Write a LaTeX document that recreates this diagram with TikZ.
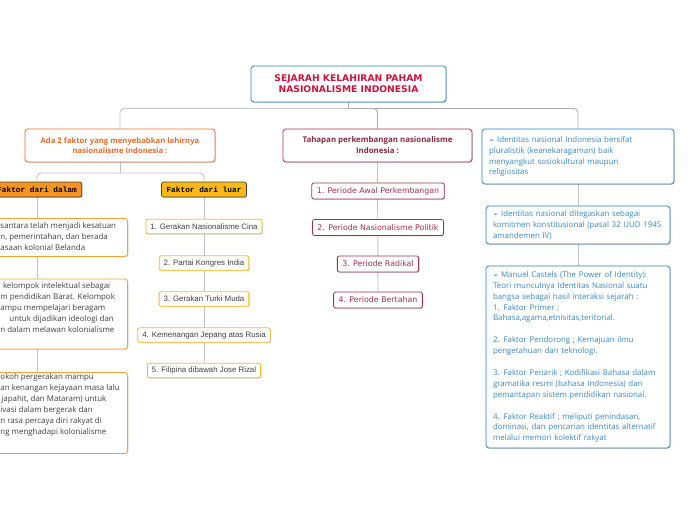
\documentclass[tikz,border=0pt]{standalone}
\usepackage{fontspec}
\setmainfont{Open Sans}
\newfontfamily\dvs{DejaVu Sans}
\newfontfamily\lmono{Liberation Mono}
\newfontfamily\lsans{Liberation Sans}
\newcommand\arrsym{{\dvs\fontsize{6.5}{10.9}\selectfont ➢}}
\usetikzlibrary{backgrounds,shadows,calc}
\definecolor{titleblue}{HTML}{2A80C0}
\definecolor{titlered}{HTML}{C8143C}
\definecolor{brorange}{HTML}{EE6A2C}
\definecolor{boxorange}{HTML}{F6A03A}
\definecolor{dalamfill}{HTML}{F7941D}
\definecolor{luarfill}{HTML}{FDB913}
\definecolor{luarborder}{HTML}{FDB913}
\definecolor{midred}{HTML}{A3324A}
\definecolor{midtext}{HTML}{8C2A41}
\definecolor{rblue}{HTML}{2D7EC2}
\definecolor{rtext}{HTML}{3A88C8}
\definecolor{conn}{HTML}{C4C4C4}
\definecolor{conndark}{HTML}{AEAEAE}
\definecolor{darktext}{HTML}{404040}
\begin{document}
\begin{tikzpicture}[x=1pt,y=-1pt,
  shd/.style={drop shadow={shadow xshift=0.8pt,shadow yshift=-0.8pt,opacity=0.18,fill=black}},
  boxbase/.style={draw,fill=white,rounded corners=3pt,inner sep=0pt,line width=0.8pt,shd},
  titlebox/.style={boxbase,draw=titleblue,text=titlered,align=center,
     font=\dvs\bfseries\fontsize{9.2}{11}\selectfont},
  lbranch/.style={boxbase,draw=brorange,text=brorange,align=center,
     font=\bfseries\fontsize{7.7}{10.5}\selectfont},
  mbranch/.style={boxbase,draw=midred,text=midtext,align=center,
     font=\bfseries\fontsize{7.9}{11}\selectfont},
  rbox/.style={boxbase,draw=rblue,text=rtext,align=left,inner xsep=7pt,
     font=\fontsize{7.9}{10.9}\selectfont},
  period/.style={boxbase,rounded corners=2pt,draw=midred,text=midred,inner xsep=5pt,
     minimum height=16pt,font=\dvs\fontsize{7.85}{9}\selectfont},
  faktor/.style={boxbase,rounded corners=2pt,draw=black!75,line width=0.7pt,inner xsep=5pt,
     minimum height=15pt,font=\lmono\bfseries\fontsize{7.8}{9}\selectfont},
  luaritem/.style={boxbase,rounded corners=2pt,draw=luarborder,text=darktext,inner xsep=4.5pt,
     minimum height=14.5pt,font=\lsans\fontsize{7.85}{9}\selectfont},
  dalambox/.style={boxbase,draw=boxorange,anchor=north east},
  dalamtext/.style={inner sep=0pt,align=left,text=darktext,anchor=north west,
     font=\fontsize{7.9}{11}\selectfont},
  link/.style={draw=conn,line width=0.9pt},
  linkdark/.style={draw=conndark,line width=0.9pt}
]
\useasboundingbox (0,0) rectangle (697,520);
\clip (0,0) rectangle (697,520);

% title
\node[titlebox,minimum width=195pt,minimum height=36pt] (title) at (348.5,84)
  {SEJARAH KELAHIRAN PAHAM\\NASIONALISME INDONESIA};

% branches
\node[lbranch,minimum width=190pt,minimum height=33pt] (lb) at (120,145.5)
  {Ada 2 faktor yang menyebabkan lahirnya\\nasionalisme Indonesia :};
\node[mbranch,minimum width=189pt,minimum height=33pt] (mb) at (377.5,145.5)
  {Tahapan perkembangan nasionalisme\\Indonesia :};
\node[rbox,minimum width=192pt,minimum height=55pt,text width=178pt] (r1) at (578,156.5)
  {\arrsym{} Identitas nasional Indonesia bersifat\\pluralistik (keanekaragaman) baik\\menyangkut sosiokultural maupun\\religiositas};
\node[rbox,minimum width=184pt,minimum height=38pt,text width=170pt] (r2) at (578,225)
  {\arrsym{} Identitas nasional ditegaskan sebagai\\komitmen konstitusional (pasal 32 UUD 1945\\amandemen IV)};
\node[rbox,minimum width=184pt,minimum height=182pt,text width=170pt] (r3) at (578,357)
  {\arrsym{} Manuel Castels (The Power of Identity):\\
   Teori munculnya Identitas Nasional suatu\\
   bangsa sebagai hasil interaksi sejarah :\\
   1. Faktor Primer ;\\
   Bahasa,agama,etnisitas,teritorial.\\[10.9pt]
   2. Faktor Pendorong ; Kemajuan ilmu\\
   pengetahuan dan teknologi.\\[10.9pt]
   3. Faktor Penarik ; Kodifikasi Bahasa dalam\\
   gramatika resmi (bahasa Indonesia) dan\\
   pemantapan sistem pendidikan nasional.\\[10.9pt]
   4. Faktor Reaktif ; meliputi penindasan,\\
   dominasi, dan pencarian identitas alternatif\\
   melalui memori kolektif rakyat};

% periods
\node[period] (p1) at (378,191) {1. Periode Awal Perkembangan};
\node[period] (p2) at (378,227.5) {2. Periode Nasionalisme Politik};
\node[period] (p3) at (378,264) {3. Periode Radikal};
\node[period] (p4) at (378,300) {4. Periode Bertahan};

% faktor boxes
\node[faktor,fill=dalamfill] (dalam) at (37,189.5) {Faktor dari dalam};
\node[faktor,fill=luarfill] (luar) at (204,189.5) {Faktor dari luar};

% luar items
\node[luaritem] (l1) at (204,226.5) {1. Gerakan Nasionalisme Cina};
\node[luaritem] (l2) at (204,263) {2. Partai Kongres India};
\node[luaritem] (l3) at (204,299) {3. Gerakan Turki Muda};
\node[luaritem] (l4) at (204,335) {4. Kemenangan Jepang atas Rusia};
\node[luaritem] (l5) at (204,370.5) {5. Filipina dibawah Jose Rizal};

% dalam items (cut by the left edge)
\node[dalambox,minimum width=160pt,minimum height=38pt] (d1) at (128,218) {};
\node[dalamtext] (d1t) at (0.3,222.5)
  {santara telah menjadi kesatuan\\n, pemerintahan, dan berada\\asaan kolonial Belanda};
\node[dalambox,minimum width=160pt,minimum height=70pt] (d2) at (128,278.5) {};
\node[dalamtext] (d2t) at (0.3,282.5)
  {\hspace*{2.5pt}kelompok intelektual sebagai\\m pendidikan Barat. Kelompok\\ampu mempelajari beragam\\\hspace*{9pt}untuk dijadikan ideologi dan\\n dalam melawan kolonialisme};
\node[dalambox,minimum width=160pt,minimum height=81pt] (d3) at (128,372) {};
\node[dalamtext] (d3t) at (0.3,373.5)
  {okoh pergerakan mampu\\an kenangan kejayaan masa lalu\\\hspace*{1pt}japahit, dan Mataram) untuk\\ivasi dalam bergerak dan\\n rasa percaya diri rakyat di\\ng menghadapi kolonialisme};

% connectors
\coordinate (hub) at (348.5,108.5);
\coordinate (hubl) at (120,173);
\begin{scope}[on background layer]
  \draw[linkdark] (title.south) -- (hub);
  \draw[link,rounded corners=4pt] (hub) -| (lb.north);
  \draw[linkdark,rounded corners=4pt] (hub) -| (mb.north);
  \draw[linkdark,rounded corners=4pt] (hub) -| (r1.north);
  \draw[link] (lb.south) -- (hubl);
  \draw[link,rounded corners=4pt] (hubl) -| (dalam.north);
  \draw[link,rounded corners=4pt] (hubl) -| (luar.north);
  \draw[link] (dalam.south) -- (d3.north -| dalam.south);
  \draw[link] (luar.south) -- (l5.north);
  \draw[link] (mb.south) -- (p4.north);
  \draw[link] (r1.south) -- (r3.north);
\end{scope}
\end{tikzpicture}
\end{document}
